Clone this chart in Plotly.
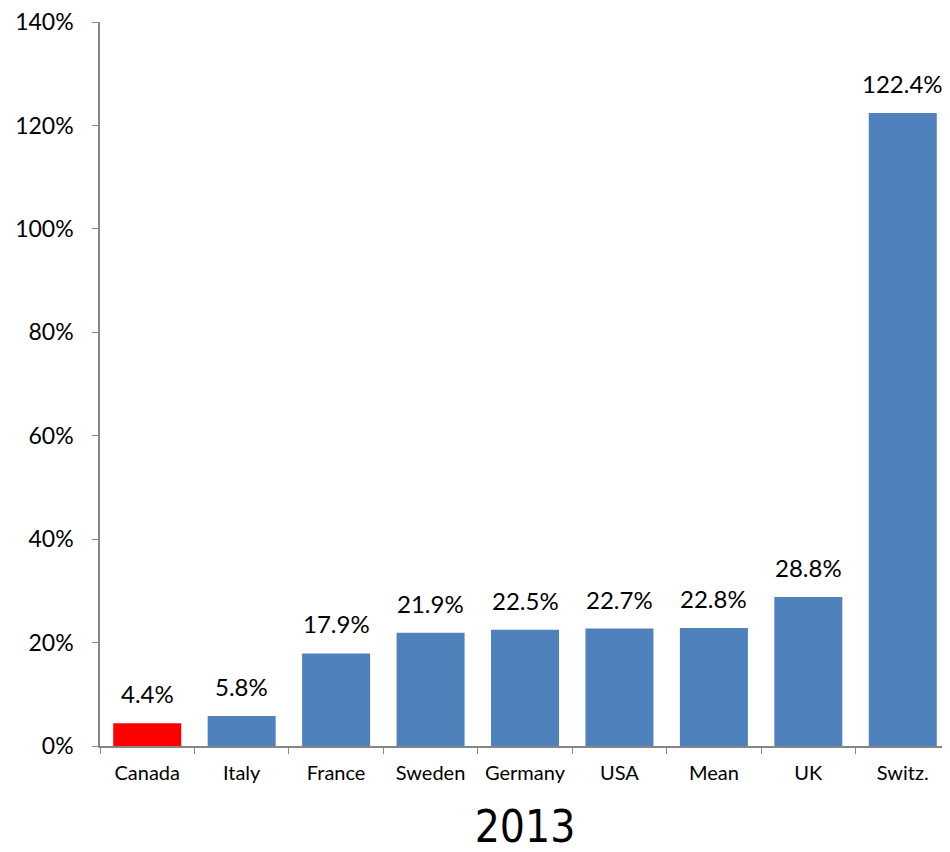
import plotly.graph_objects as go

categories = ["Canada", "Italy", "France", "Sweden", "Germany", "USA", "Mean", "UK", "Switz."]
values = [0.044, 0.058, 0.179, 0.219, 0.225, 0.227, 0.228, 0.288, 1.224]
labels = ["4.4%", "5.8%", "17.9%", "21.9%", "22.5%", "22.7%", "22.8%", "28.8%", "122.4%"]
y_ticks = [0, 0.2, 0.4, 0.6, 0.8, 1.0, 1.2, 1.4]
y_tick_labels = ["0%", "20%", "40%", "60%", "80%", "100%", "120%", "140%"]
colors = ["#FF0000"] + ["#4F81BD"] * 8

fig = go.Figure(go.Bar(x=categories, y=values, marker=dict(color=colors, line=dict(width=0)),
                       hoverinfo="skip"))

for c, v, t in zip(categories, values, labels):
    fig.add_annotation(x=c, y=v, text=t, showarrow=False, yanchor="bottom", yshift=13,
                       font=dict(family="Lato, Liberation Sans", size=24, color="#000000"))

fig.update_layout(
    width=942, height=844,
    margin=dict(l=92, r=0, t=14, b=106),
    paper_bgcolor="white", plot_bgcolor="white",
    bargap=0.28, showlegend=False,
    xaxis=dict(
        type="category", automargin=False, showline=True, linecolor="#868686", linewidth=1.5,
        ticks="outside", tickson="boundaries", ticklen=6, tickcolor="#868686",
        ticklabelstandoff=8,
        tickfont=dict(family="Lato, Liberation Sans", size=20, color="#000000"),
        title=dict(text="2013", font=dict(family="Liberation Sans Narrow, DejaVu Sans Condensed", size=44, color="#000000"), standoff=30),
    ),
    yaxis=dict(
        range=[0, 1.4001], tickmode="array", tickvals=y_ticks, ticktext=y_tick_labels,
        showgrid=False, zeroline=False,
        automargin=False, ticklabeloverflow="allow",
        showline=True, linecolor="#868686", linewidth=1.5,
        ticks="outside", ticklen=6, tickcolor="#868686", ticklabelstandoff=14,
        tickfont=dict(family="Lato, Liberation Sans", size=23, color="#000000"),
    ),
)

fig.write_html("out.html")
